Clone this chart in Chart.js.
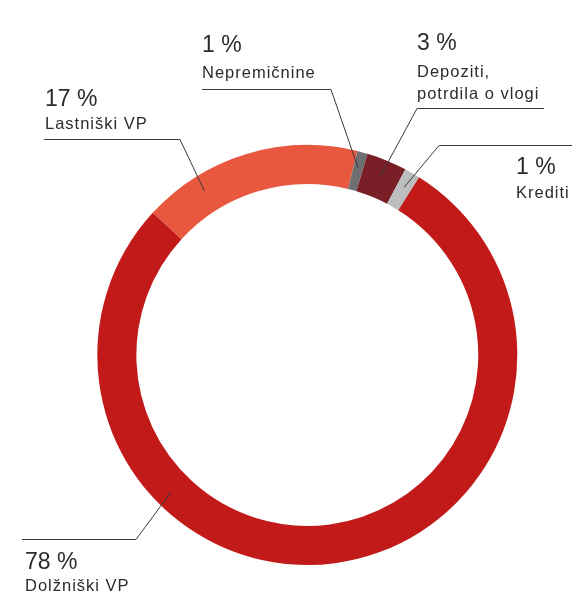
<!DOCTYPE html>
<html>
<head>
<meta charset="utf-8">
<script src="https://cdn.jsdelivr.net/npm/chart.js@4.4.1/dist/chart.umd.min.js"></script>
<style>
  html, body { margin: 0; padding: 0; background: #fff; }
  #wrap { width: 572px; height: 597px; }
</style>
</head>
<body>
<div id="wrap"><canvas id="portfolioChart"></canvas></div>
<script>
// portfolio structure, clockwise from the orange slice
const categories = ['Lastniški VP', 'Nepremičnine', 'Depoziti,\npotrdila o vlogi', 'Krediti', 'Dolžniški VP'];
const shares = [17.0, 0.8, 3.1, 1.2, 77.9];
const shareLabels = ['17 %', '1 %', '3 %', '1 %', '78 %'];
const colors = ['#E8583E', '#6E6F71', '#7A1F27', '#BCBDBF', '#C21A19'];

// where each callout sits (x = text left, ny = number baseline, ly = first label baseline,
// lineY = underline, x1/x2 = underline ends, elbow = end the leader joins, t = spot on the slice)
const callouts = [
  { x: 45,  ny: 106, ly: 129, lineY: 139, x1: 44,  x2: 180, elbow: 180, t: 0.25 },
  { x: 202, ny: 52,  ly: 78,  lineY: 89,  x1: 202, x2: 331, elbow: 331, t: 0.5 },
  { x: 417, ny: 50,  ly: 77,  lineY: 108, x1: 417, x2: 544, elbow: 417, t: 0.5 },
  { x: 516, ny: 174, ly: 198, lineY: 145, x1: 439, x2: 572, elbow: 439, t: 0.5 },
  { x: 25,  ny: 569, ly: 591, lineY: 539, x1: 22,  x2: 136, elbow: 136, t: 0.687 }
];

const calloutPlugin = {
  id: 'callouts',
  afterDraw(chart) {
    const ctx = chart.ctx;
    const arcs = chart.getDatasetMeta(0).data;
    ctx.save();
    arcs.forEach((arc, i) => {
      const c = callouts[i];
      const p = arc.getProps(['x', 'y', 'startAngle', 'endAngle', 'innerRadius', 'outerRadius'], true);
      const a = p.startAngle + c.t * (p.endAngle - p.startAngle);
      const r = p.innerRadius + 0.58 * (p.outerRadius - p.innerRadius);
      const tx = p.x + Math.cos(a) * r;
      const ty = p.y + Math.sin(a) * r;

      ctx.strokeStyle = '#3a3a3a';
      ctx.lineWidth = 1;
      ctx.beginPath();
      ctx.moveTo(tx, ty);
      ctx.lineTo(c.elbow, c.lineY + 0.5);
      ctx.lineTo(c.elbow === c.x1 ? c.x2 : c.x1, c.lineY + 0.5);
      ctx.stroke();

      ctx.fillStyle = '#2b2b2b';
      ctx.textBaseline = 'alphabetic';
      ctx.textAlign = 'left';
      ctx.letterSpacing = '0px';
      ctx.font = '23px "Liberation Sans", Arial, sans-serif';
      ctx.fillText(shareLabels[i], c.x, c.ny);
      ctx.letterSpacing = '1px';
      ctx.font = '16.5px "Liberation Sans", Arial, sans-serif';
      categories[i].split('\n').forEach((line, k) => {
        ctx.fillText(line, c.x, c.ly + k * 21.5);
      });
    });
    ctx.restore();
  }
};

new Chart(document.getElementById('portfolioChart'), {
  type: 'doughnut',
  data: {
    labels: categories,
    datasets: [{
      data: shares,
      backgroundColor: colors,
      borderWidth: 0,
      hoverOffset: 0
    }]
  },
  options: {
    responsive: true,
    maintainAspectRatio: false,
    animation: false,
    events: [],
    rotation: -47.4,
    cutout: '81.4%',
    layout: { padding: { left: 97.3, right: 54.7, top: 145, bottom: 32 } },
    plugins: {
      legend: { display: false },
      tooltip: { enabled: false }
    }
  },
  plugins: [calloutPlugin]
});
</script>
</body>
</html>
